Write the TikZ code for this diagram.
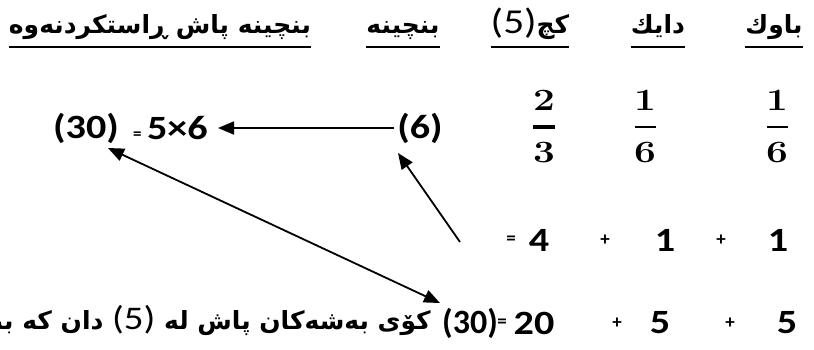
\documentclass[tikz,border=0pt]{standalone}
\usepackage{fontspec}
\setsansfont{Carlito}
\newfontfamily\arabicfont[Script=Arabic]{DejaVu Sans}
\TeXXeTstate=1
\usetikzlibrary{arrows.meta}
\newcommand{\xwide}[1]{\scalebox{1.18}[1]{#1}}
\newcommand{\fwide}[1]{\scalebox{1.25}[1]{#1}}
\tikzset{
  hdr/.style={font=\arabicfont\bfseries\fontsize{25}{29}\selectfont, inner sep=0pt, anchor=base},
  abody/.style={font=\arabicfont\bfseries\fontsize{25}{29}\selectfont, inner sep=0pt},
  num/.style={font=\sffamily\bfseries\fontsize{34}{38}\selectfont, inner sep=0pt},
  op/.style={font=\sffamily\bfseries\fontsize{19}{22}\selectfont, inner sep=0pt},
  fr/.style={font=\rmfamily\bfseries\fontsize{31}{34}\selectfont, inner sep=0pt},
  uline/.style={line width=2pt},
  arr/.style={line width=1.8pt, -{Triangle[length=16pt,width=13pt]}},
  darr/.style={line width=1.8pt, {Triangle[length=16pt,width=13pt]}-{Triangle[length=16pt,width=13pt]}}
}
\begin{document}
\begin{tikzpicture}[x=1pt,y=-1pt]
\useasboundingbox (0,0) rectangle (814,349);
\clip (0,0) rectangle (814,349);
\fill[white] (0,0) rectangle (814,349);

% headers
\node[hdr] (h1) at (774,33) {\beginR باوك\endR};
\node[hdr] (h2) at (658,33) {\beginR دایك\endR};
\node[hdr] (h3) at (530,33) {\beginR كچ\beginL{\sffamily\mdseries\fontsize{35}{35}\selectfont\xwide{(5)}}\endL\endR};
\node[hdr] (h4) at (403,33) {\beginR بنچینه\endR};
\node[hdr] (h5) at (160,33) {\beginR بنچینه پاش ڕاستكردنەوه\endR};
\foreach \h in {h1,h2,h3,h4,h5}
  \draw[uline] ([yshift=-14pt]\h.base west) -- ([yshift=-14pt]\h.base east);

% row 2
\node[num] (n30) at (86,128) {\xwide{(30)}};
\node[num, anchor=east] (m56) at (208,128) {{\fontsize{17}{17}\selectfont =}\,\xwide{5×6}};
\node[num] (n6) at (420,128) {\xwide{(6)}};

% fractions
\node[fr] (fa) at (544,100) {\fwide{2}};
\node[fr] (fb) at (544,153) {\fwide{3}};
\draw[line width=4pt] (533,127) -- (555,127);
\node[fr] (fc) at (645,100) {\fwide{1}};
\node[fr] (fd) at (645,153) {\fwide{6}};
\draw[line width=2pt] (635,127) -- (656,127);
\node[fr] (fe) at (777,100) {\fwide{1}};
\node[fr] (ff) at (777,153) {\fwide{6}};
\draw[line width=2pt] (767,127) -- (788,127);

% row 3
\node[op] (e3) at (511,240) {=};
\node[num] (r4) at (539,240) {\xwide{4}};
\node[op] (p1) at (605,240) {+};
\node[num] (r1a) at (665,240) {\xwide{1}};
\node[op] (p2) at (721,240) {+};
\node[num] (r1b) at (778,240) {\xwide{1}};

% row 4
\node[num, anchor=west] (b30) at (442,323) {(30)};
\node[op] (e4) at (502,323) {=};
\node[num] (b20) at (534,323) {\xwide{20}};
\node[op] (q1) at (617,323) {+};
\node[num] (b5a) at (660,323) {\xwide{5}};
\node[op] (q2) at (730,323) {+};
\node[num] (b5b) at (787,323) {\xwide{5}};
\node[abody, anchor=base east] (sent) at (431,329)
  {\beginR كۆی بەشەكان پاش لە \beginL{\sffamily\mdseries\fontsize{33}{33}\selectfont\xwide{(5)}}\endL{} دان كە بنچینە\endR};

% arrows
\draw[arr] ([xshift=-3pt]n6.west) -- ([xshift=10pt]m56.east);
\coordinate (t2) at (460,242);
\draw[arr] (t2) -- ([xshift=-22pt,yshift=-25pt]n6.center);
\draw[darr] ([xshift=22pt,yshift=-20pt]n30.center) -- ([xshift=-2pt,yshift=20pt]b30.west);
\end{tikzpicture}
\end{document}
